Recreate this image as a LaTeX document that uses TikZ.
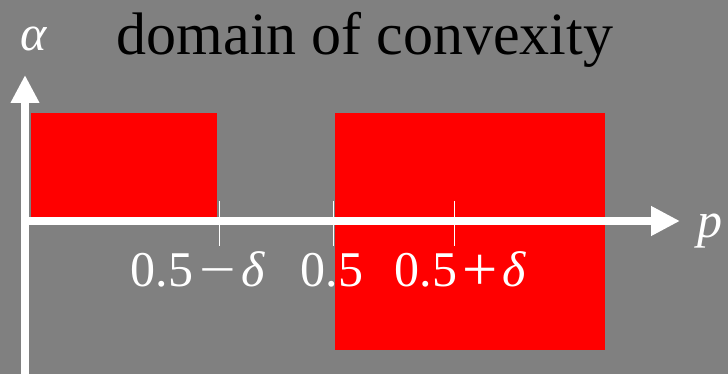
\documentclass[tikz,border=0pt]{standalone}
\usepackage{fontspec}
\setmainfont{Liberation Serif}
\usetikzlibrary{arrows.meta}

\begin{document}
\begin{tikzpicture}[x=1pt,y=-1pt,
    every node/.style={inner sep=0pt,anchor=base},
    axis/.style={white,line width=8pt},
    tick/.style={white,line width=1pt},
    region/.style={fill=red,draw=none},
    lbl/.style={white,font=\fontsize{50}{50}\selectfont}]
  \fill[gray] (0,0) rectangle (728,374);
  \useasboundingbox (0,0) rectangle (728,374);
  % convex regions
  \path[region] (31,113) rectangle (217,221);
  \path[region] (335,113) rectangle (605,350);
  % axes
  \coordinate (origin) at (25,221);
  \coordinate (xend) at (680,221);
  \coordinate (ybot) at (25,374);
  \coordinate (yend) at (25,75);
  \draw[axis,-{Triangle[length=29pt,width=28pt]}] (origin) -- (xend);
  \draw[axis,-{Triangle[length=28pt,width=27pt]}] (ybot) -- (yend);
  \foreach \x in {219,333,454}
    \draw[tick] (\x,201) -- (\x,246);
  % labels
  \node[lbl] (lminus) at (198,286) {0.5\kern6pt\scalebox{1.3}[1]{−}\kern6pt{\itshape δ}};
  \node[lbl] (lhalf) at (332,286) {0.5};
  \node[lbl] (lplus) at (460,286) {0.5\kern5pt\raisebox{-4pt}{\scalebox{1.25}{+}}\kern5pt{\itshape δ}};
  \node[lbl,anchor=base west] (plabel) at (697,237) {\itshape p};
  \node[lbl] (alabel) at (34,51) {\itshape α};
  \node[font=\fontsize{60}{60}\selectfont] (title) at (365,55) {domain of convexity};
\end{tikzpicture}
\end{document}
